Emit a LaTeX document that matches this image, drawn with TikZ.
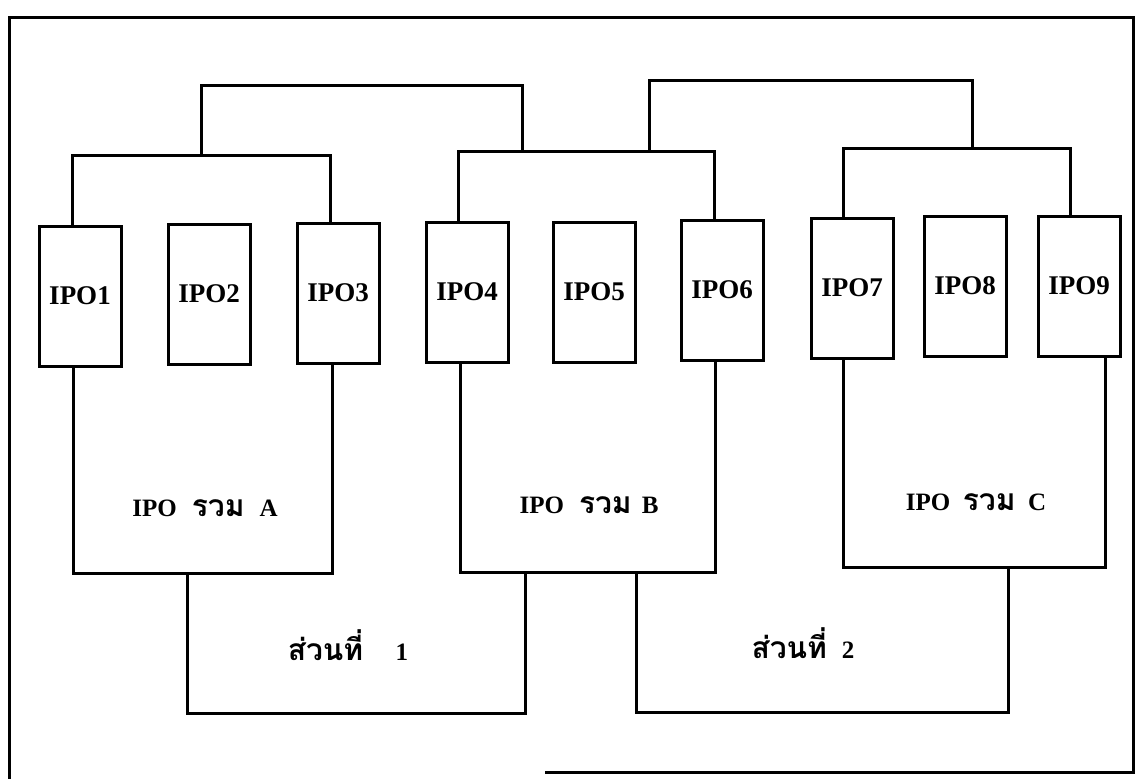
\documentclass[tikz,border=0pt]{standalone}
\usepackage{fontspec}
\setmainfont{Liberation Serif}
\newfontfamily\thaifont[Script=Thai,Scale=1.2]{Loma}
\usepackage{tikz}

\begin{document}
\begin{tikzpicture}[x=1pt,y=-1pt,line width=3pt,
        every node/.style={font=\bfseries\fontsize{25}{30}\selectfont},
        ipobox/.style={draw,minimum width=82pt,minimum height=140pt,inner sep=0pt,font=\bfseries\fontsize{27}{32}\selectfont}]
                \useasboundingbox (0,0) rectangle (1135,779);
                \draw (545,772) -- (1133,772) -- (1133,17) -- (9,17) -- (9,779);
                \node[ipobox] (ipo1) at (80,296) {IPO1};
                \node[ipobox] (ipo2) at (209,294) {IPO2};
                \node[ipobox] (ipo3) at (338,293) {IPO3};
                \node[ipobox] (ipo4) at (467,292) {IPO4};
                \node[ipobox] (ipo5) at (594,292) {IPO5};
                \node[ipobox] (ipo6) at (722,290) {IPO6};
                \node[ipobox] (ipo7) at (852,288) {IPO7};
                \node[ipobox] (ipo8) at (965,286) {IPO8};
                \node[ipobox] (ipo9) at (1079,286) {IPO9};
                \coordinate (jA) at (201,155);
                \coordinate (jB) at (522,151);
                \coordinate (jBr) at (649,151);
                \coordinate (jC) at (972,148);
                \coordinate (linkAB) at (360,85);
                \coordinate (linkBC) at (810,80);
                \coordinate (bA) at (187,573);
                \coordinate (bB) at (525,572);
                \coordinate (bBr) at (636,572);
                \coordinate (bC) at (1008,567);
                \coordinate (p1) at (350,713);
                \coordinate (p2) at (820,712);
                \draw ([xshift=-8pt]ipo1.north) |- (jA) -| ([xshift=-8pt]ipo3.north);
                \draw ([xshift=-9pt]ipo4.north) |- (jB) -| ([xshift=-8pt]ipo6.north);
                \draw ([xshift=-9pt]ipo7.north) |- (jC) -| ([xshift=-9pt]ipo9.north);
                \draw (jA) |- (linkAB) -| (jB);
                \draw (jBr) |- (linkBC) -| (jC);
                \draw ([xshift=-7pt]ipo1.south) |- (bA) -| ([xshift=-6pt]ipo3.south);
                \draw ([xshift=-7pt]ipo4.south) |- (bB) -| ([xshift=-7pt]ipo6.south);
                \draw ([xshift=-9pt]ipo7.south) |- (bC) -| ([xshift=26pt]ipo9.south);
                \draw (bA) |- (p1) -| (bB);
                \draw (bBr) |- (p2) -| (bC);
                \node (sumA) at (205,508) {IPO\hspace{0.6em}{\thaifont รวม}\hspace{0.6em}A};
                \node (sumB) at (589,505) {IPO\hspace{0.6em}{\thaifont รวม}\hspace{0.4em}B};
                \node (sumC) at (976,502) {IPO\hspace{0.5em}{\thaifont รวม}\hspace{0.5em}C};
                \node (part1) at (348,645) {{\thaifont ส่วนที่}\hspace{1.3em}1};
                \node (part2) at (803,643) {{\thaifont ส่วนที่}\hspace{0.6em}2};
            \end{tikzpicture}
\end{document}
